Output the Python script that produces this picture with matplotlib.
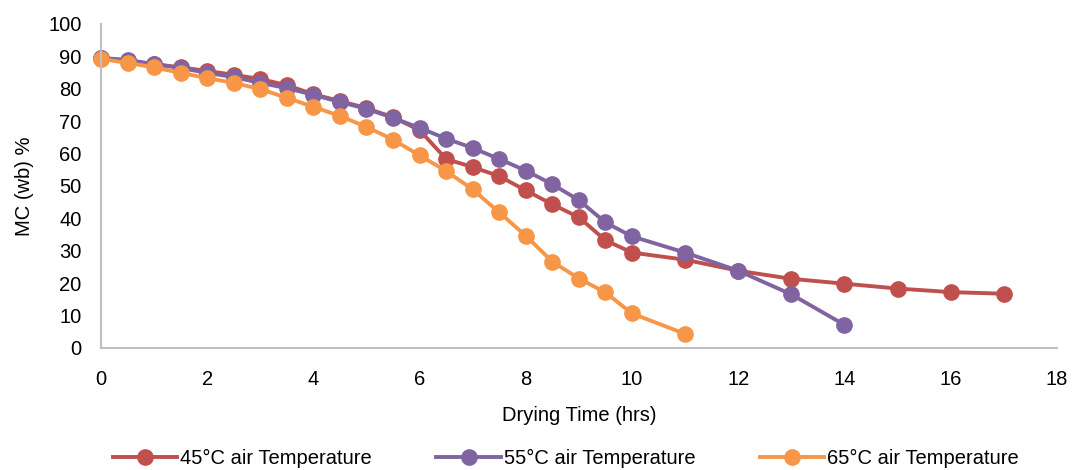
import numpy as np
from matplotlib import pyplot as plt

# drying time (hrs)
t45 = [0, 0.5, 1, 1.5, 2, 2.5, 3, 3.5, 4, 4.5, 5, 5.5, 6, 6.5, 7, 7.5, 8, 8.5, 9, 9.5, 10,
       11, 12, 13, 14, 15, 16, 17]
mc45 = [89.5, 88.6, 87.6, 86.6, 85.5, 84.3, 83.0, 81.1, 78.3, 76.2, 74.0, 71.2, 67.2, 58.3, 55.8, 53.0, 48.6,
        44.3, 40.3, 33.2, 29.4, 27.2, 23.8, 21.3, 19.8, 18.3, 17.2, 16.7]

t55 = [0, 0.5, 1, 1.5, 2, 2.5, 3, 3.5, 4, 4.5, 5, 5.5, 6, 6.5, 7, 7.5, 8, 8.5, 9, 9.5, 10,
       11, 12, 13, 14]
mc55 = [89.5, 88.9, 87.6, 86.4, 84.9, 83.6, 81.8, 80.2, 78.1, 75.9, 73.8, 71.0, 67.9, 64.6, 61.7, 58.3, 54.7,
        50.5, 45.6, 38.7, 34.4, 29.4, 23.8, 16.5, 7.1]

t65 = [0, 0.5, 1, 1.5, 2, 2.5, 3, 3.5, 4, 4.5, 5, 5.5, 6, 6.5, 7, 7.5, 8, 8.5, 9, 9.5, 10, 11]
mc65 = [89.2, 88.0, 86.6, 84.9, 83.3, 81.8, 79.9, 77.2, 74.4, 71.6, 68.2, 64.3, 59.4, 54.6, 48.9, 41.8, 34.6,
        26.6, 21.4, 17.1, 10.6, 4.3]

labels = ['45\u00b0C air Temperature', '55\u00b0C air Temperature', '65\u00b0C air Temperature']
colors = ['#C0504D', '#8064A2', '#F79646']

plt.rcParams['font.family'] = ['Liberation Sans', 'DejaVu Sans']

fig = plt.figure(figsize=(10.74, 4.7), dpi=100)
ax = fig.add_axes([0.094, 0.26, 0.89, 0.689])

for t, mc, lab, c in zip([t45, t55, t65], [mc45, mc55, mc65], labels, colors):
    ax.plot(t, mc, color=c, lw=2.8, marker='o', markersize=11, label=lab, clip_on=False)

ax.set_xlim(0, 18)
ax.set_ylim(0, 100)
ax.set_xticks(np.arange(0, 19, 2))
ax.set_yticks(np.arange(0, 101, 10))
ax.tick_params(length=0, labelsize=14.5)
ax.tick_params(axis='x', pad=16)
ax.tick_params(axis='y', pad=14)
for s in ['top', 'right']:
    ax.spines[s].set_visible(False)
for s in ['left', 'bottom']:
    ax.spines[s].set_color('#BFBFBF')
    ax.spines[s].set_linewidth(1.5)

ax.set_xlabel('Drying Time (hrs)', fontsize=14.5, labelpad=12)
ax.set_ylabel('MC (wb) %', fontsize=14.5, labelpad=10)

fig.legend(loc='lower center', bbox_to_anchor=(0.527, -0.035), ncol=3, frameon=False,
           fontsize=14.5, handlelength=3.2, columnspacing=3.2, handletextpad=0.15)

fig.savefig('out.png', dpi=100)
